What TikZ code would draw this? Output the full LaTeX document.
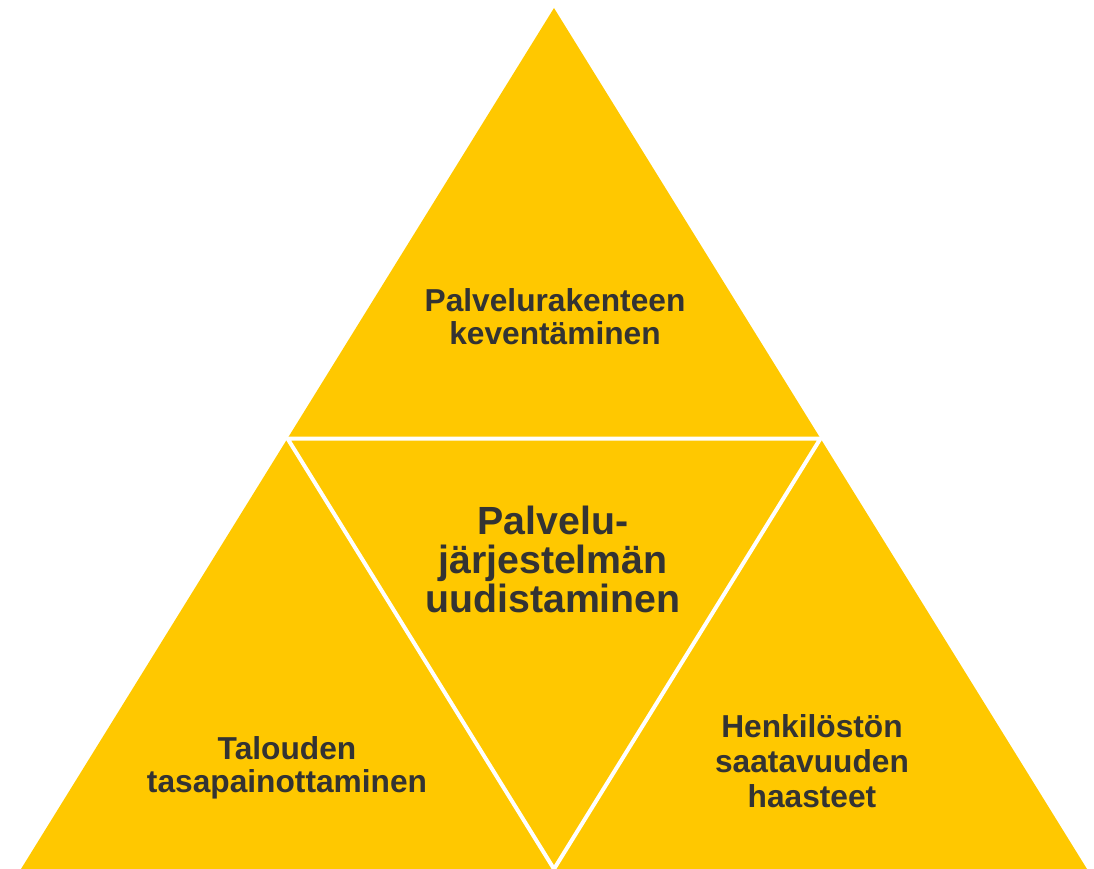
\documentclass[tikz,border=0pt]{standalone}
\usepackage{fontspec}
\setmainfont{Liberation Sans}
\usetikzlibrary{calc}
\definecolor{tri}{HTML}{FFC800}
\definecolor{txt}{HTML}{333333}
\begin{document}
\begin{tikzpicture}[x=1pt,y=-1pt,
  lbl/.style={font=\bfseries\fontsize{31.7}{32.5}\selectfont, text=txt, align=center, inner sep=0pt},
  biglbl/.style={font=\bfseries\fontsize{39.3}{39}\selectfont, text=txt, align=center, inner sep=0pt},
  sepline/.style={draw=white, line width=4pt, line join=round}]
\useasboundingbox (0,0) rectangle (1094,869);
\coordinate (A) at (554,8);
\coordinate (B) at (21,869);
\coordinate (C) at (1087,869);
\fill[tri] (A) -- (B) -- (C) -- cycle;
\coordinate (AB) at ($(A)!0.5!(B)$);
\coordinate (AC) at ($(A)!0.5!(C)$);
\coordinate (BC) at ($(B)!0.5!(C)$);
\draw[sepline] (AB) -- (AC) -- (BC) -- cycle;
\node[lbl] (top) at (555,316.5) {Palvelurakenteen\\keventäminen};
\node[biglbl] (mid) at (553,559) {Palvelu-\\järjestelmän\\uudistaminen};
\node[lbl] (left) at (287,768) {Talouden\\tasapainottaminen};
\node[lbl, font=\bfseries\fontsize{31.7}{35}\selectfont] (right) at (812,761) {Henkilöstön\\saatavuuden\\haasteet};
\end{tikzpicture}
\end{document}
